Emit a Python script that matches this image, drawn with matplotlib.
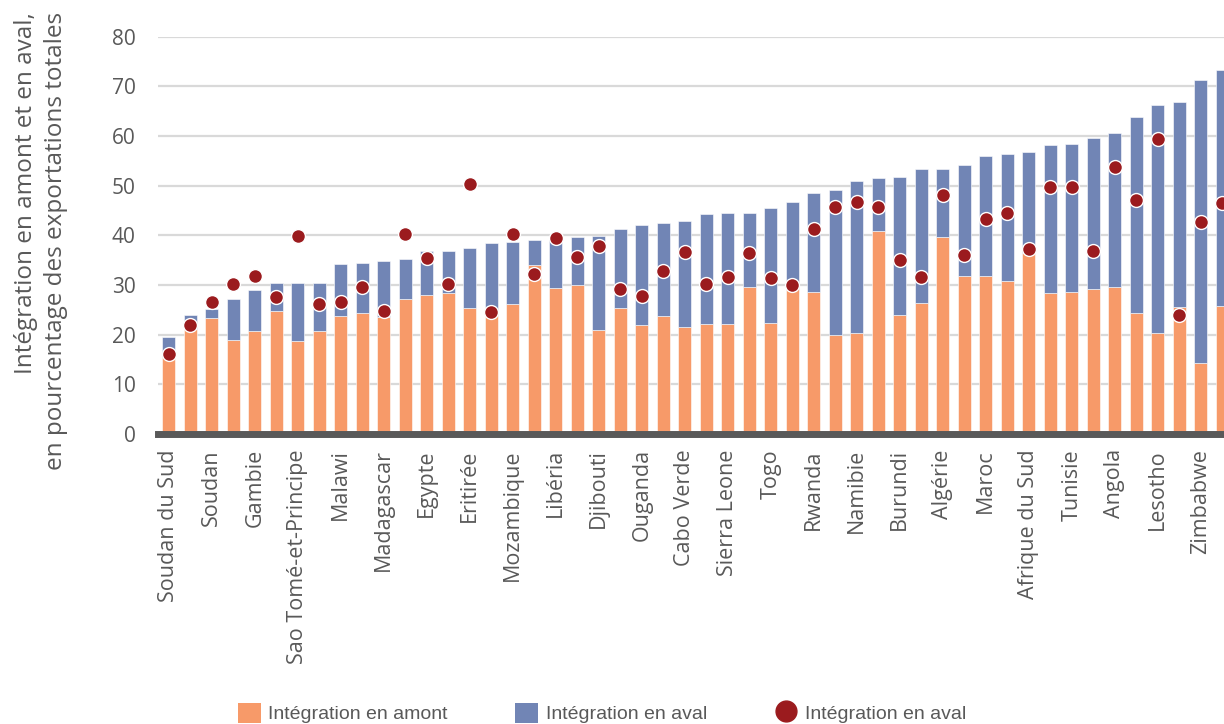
import matplotlib
matplotlib.use("Agg")
import matplotlib.pyplot as plt
from matplotlib import font_manager
from matplotlib.patches import Patch
from matplotlib.lines import Line2D

# ---------------- data ----------------
tick_labels = ["Soudan du Sud", "Soudan", "Gambie", "Sao Tomé-et-Principe", "Malawi",
               "Madagascar", "Egypte", "Eritirée", "Mozambique", "Libéria", "Djibouti",
               "Ouganda", "Cabo Verde", "Sierra Leone", "Togo", "Rwanda", "Namibie",
               "Burundi", "Algérie", "Maroc", "Afrique du Sud", "Tunisie", "Angola",
               "Lesotho", "Zimbabwe"]

amont = [15.5, 21.2, 23.3, 18.9, 20.7, 24.7, 18.7, 20.7, 23.8, 24.3,
         23.6, 27.2, 28.0, 28.4, 25.3, 24.0, 26.2, 34.0, 29.4, 30.0,
         20.9, 25.4, 21.9, 23.7, 21.5, 22.2, 22.1, 29.6, 22.3, 29.3,
         28.5, 20.0, 20.3, 40.8, 24.0, 26.3, 39.6, 31.9, 31.8, 30.8,
         36.5, 28.4, 28.5, 29.1, 29.6, 24.4, 20.4, 25.5, 14.3, 25.7]

aval = [4.1, 2.8, 1.8, 8.3, 8.3, 5.7, 11.7, 9.7, 10.4, 10.2,
        11.3, 8.1, 8.8, 8.4, 12.2, 14.5, 12.4, 5.0, 9.9, 9.6,
        18.9, 15.8, 20.2, 18.8, 21.3, 22.1, 22.3, 14.9, 23.2, 17.4,
        20.1, 29.2, 30.7, 10.7, 27.7, 27.0, 13.7, 22.3, 24.2, 25.6,
        20.3, 29.8, 29.9, 30.5, 31.1, 39.4, 45.8, 41.3, 56.9, 47.5]

aval_points = [16.1, 22.0, 26.6, 30.2, 31.8, 27.6, 39.9, 26.1, 26.5, 29.5,
               24.7, 40.2, 35.4, 30.2, 50.3, 24.6, 40.2, 32.3, 39.4, 35.7,
               37.8, 29.2, 27.8, 32.8, 36.7, 30.2, 31.6, 36.4, 31.5, 30.0,
               41.2, 45.7, 46.7, 45.6, 35.0, 31.7, 48.1, 36.1, 43.3, 44.5,
               37.2, 49.8, 49.8, 36.8, 53.7, 47.2, 59.4, 23.9, 42.7, 46.6]

y_ticks = [0, 10, 20, 30, 40, 50, 60, 70, 80]
legend_labels = ["Intégration en amont", "Intégration en aval", "Intégration en aval"]

# ---------------- style ----------------
ORANGE = "#F79A69"
BLUE = "#7185B5"
RED = "#9B1B1E"
GRID = "#D9D9D9"
TEXT = "#595959"

installed = {f.name for f in font_manager.fontManager.ttflist}
MAIN = "Open Sans" if "Open Sans" in installed else "DejaVu Sans"
if "Liberation Sans Narrow" in installed:
    NARROW, LEG_SIZE = "Liberation Sans Narrow", 16.5
else:
    NARROW, LEG_SIZE = "Liberation Sans", 14.0

fig = plt.figure(figsize=(12.24, 7.24), dpi=100)
ax = fig.add_axes([158 / 1224, 1 - 433.9 / 724, 1066 / 1224, (433.9 - 36.7) / 724])

x = list(range(len(amont)))
ax.bar(x, amont, width=0.59, color=ORANGE, edgecolor="white", linewidth=0.4, zorder=2)
ax.bar(x, aval, width=0.59, bottom=amont, color=BLUE, edgecolor="white", linewidth=0.4, zorder=2)
ax.plot(x, aval_points, linestyle="none", marker="o", markersize=10,
        markerfacecolor=RED, markeredgecolor="white", markeredgewidth=1.0, zorder=4)

ax.set_xlim(-0.5, 49.08)
ax.set_ylim(0, 80)
ax.set_yticks(y_ticks)
ax.set_yticklabels([str(v) for v in y_ticks], fontsize=15, color=TEXT, family=MAIN)
ax.tick_params(axis="y", length=0, pad=16)

ax.set_xticks(list(range(0, 50, 2)))
ax.set_xticklabels(tick_labels, rotation=90, fontsize=15.5, color=TEXT, family=MAIN,
                   va="top", ha="center")
ax.tick_params(axis="x", length=0, pad=11)

ax.yaxis.grid(True, color=GRID, linewidth=1.6, zorder=0)
ax.set_axisbelow(True)
for s in ax.spines.values():
    s.set_visible(False)
ax.axhline(0, color=TEXT, linewidth=5, zorder=3, clip_on=False)

fig.text(41 / 1224, 1 - 12 / 724,
         "Intégration en amont et en aval,\nen pourcentage des exportations totales",
         rotation=90, ha="center", va="top", multialignment="right",
         fontsize=17.5, color=TEXT, family=MAIN, linespacing=1.36)

handles = [Patch(facecolor=ORANGE, edgecolor="none"),
           Patch(facecolor=BLUE, edgecolor="none"),
           Line2D([], [], linestyle="none", marker="o", markersize=15,
                  markerfacecolor=RED, markeredgecolor=RED)]
leg = fig.legend(handles, legend_labels, loc="center",
                 bbox_to_anchor=(602 / 1224, 1 - 713 / 724), ncol=3, frameon=False,
                 prop={"family": NARROW, "size": LEG_SIZE}, handlelength=1.19, handleheight=1.19,
                 handletextpad=0.4, columnspacing=3.45, borderpad=0, borderaxespad=0)
for t in leg.get_texts():
    t.set_color(TEXT)

fig.savefig("out.png", dpi=100)
